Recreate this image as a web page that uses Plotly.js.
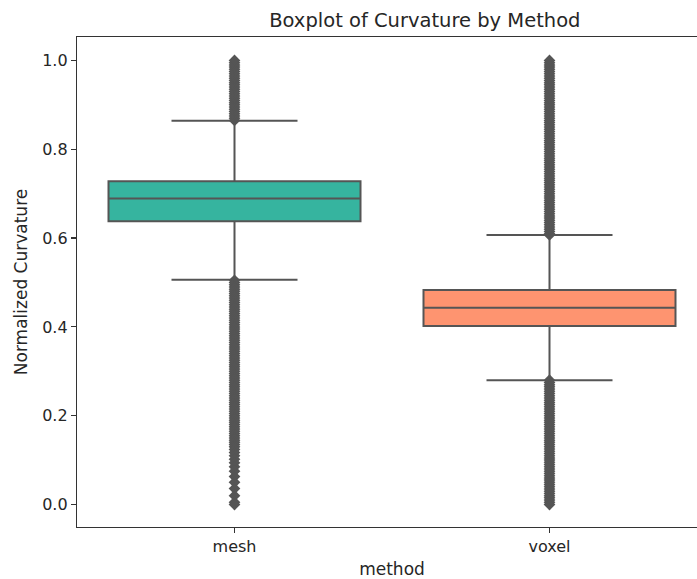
<!DOCTYPE html>
<html>
<head>
<meta charset="utf-8">
<script src="https://cdn.plot.ly/plotly-3.0.1.min.js"></script>
<style>
html,body{margin:0;padding:0;overflow:hidden;background:#fff;}
#chart{width:710px;height:579px;}
</style>
</head>
<body>
<div id="chart"></div>
<script>
const categories = ['mesh', 'voxel'];
const q1 = [0.638, 0.402];
const medians = [0.689, 0.443];
const q3 = [0.728, 0.483];
const lowerWhisker = [0.506, 0.280];
const upperWhisker = [0.864, 0.607];
const boxColors = ['#36b49f', '#fe9470'];

const meshOutliers = [
  0.865,0.87,0.875,0.88,0.885,0.89,0.895,0.9,0.905,0.91,0.915,0.92,0.925,0.93,0.935,0.94,0.945,0.95,0.955,0.96,0.965,0.97,0.975,0.98,0.985,0.99,0.995,1.0,
  0.505,0.5,0.495,0.49,0.485,0.48,0.475,0.47,0.465,0.46,0.455,0.45,0.445,0.44,0.435,0.43,0.425,0.42,0.415,0.41,0.405,0.4,0.395,0.39,0.385,0.38,0.375,0.37,0.365,0.36,0.355,0.35,0.345,0.34,0.335,0.33,0.325,0.32,0.315,0.31,0.305,0.3,0.295,0.29,0.285,0.28,0.275,0.27,0.265,0.26,0.255,0.25,0.245,0.24,0.235,0.23,0.225,0.22,0.215,0.21,0.205,0.2,0.195,0.19,0.185,0.18,0.175,0.17,0.165,0.16,0.155,0.15,0.145,0.14,0.135,0.13,0.124,0.117,0.11,0.102,0.094,0.085,0.075,0.063,0.05,0.036,0.02,0.005,0.0
];
const voxelOutliers = [
  0.607,0.61,0.615,0.62,0.625,0.63,0.635,0.64,0.645,0.65,0.655,0.66,0.665,0.67,0.675,0.68,0.685,0.69,0.695,0.7,0.705,0.71,0.715,0.72,0.725,0.73,0.735,0.74,0.745,0.75,0.755,0.76,0.765,0.77,0.775,0.78,0.785,0.79,0.795,0.8,0.805,0.81,0.815,0.82,0.825,0.83,0.835,0.84,0.845,0.85,0.855,0.86,0.865,0.87,0.875,0.88,0.885,0.89,0.895,0.9,0.905,0.91,0.915,0.92,0.925,0.93,0.935,0.94,0.945,0.95,0.955,0.96,0.965,0.97,0.975,0.98,0.985,0.99,0.995,1.0,
  0.28,0.275,0.27,0.265,0.26,0.255,0.25,0.245,0.24,0.235,0.23,0.225,0.22,0.215,0.21,0.205,0.2,0.195,0.19,0.185,0.18,0.175,0.17,0.165,0.16,0.155,0.15,0.145,0.14,0.135,0.13,0.125,0.12,0.115,0.11,0.105,0.1,0.095,0.09,0.085,0.08,0.075,0.07,0.065,0.06,0.055,0.05,0.045,0.04,0.035,0.03,0.025,0.02,0.015,0.01,0.005,0.0
];
const yTicks = [0.0, 0.2, 0.4, 0.6, 0.8, 1.0];
const yTickLabels = ['0.0', '0.2', '0.4', '0.6', '0.8', '1.0'];

const edge = '#555555';
const font = 'DejaVu Sans, sans-serif';

const traces = categories.map((c, i) => ({
  type: 'box',
  x: [c],
  q1: [q1[i]],
  median: [medians[i]],
  q3: [q3[i]],
  lowerfence: [lowerWhisker[i]],
  upperfence: [upperWhisker[i]],
  fillcolor: boxColors[i],
  line: {color: edge, width: 2},
  whiskerwidth: 0.5,
  width: 0.8,
  boxpoints: false,
  showlegend: false,
  hoverinfo: 'skip'
}));

const outlierSets = [meshOutliers, voxelOutliers];
outlierSets.forEach((vals, i) => {
  traces.push({
    type: 'scatter',
    mode: 'markers',
    x: vals.map(() => categories[i]),
    y: vals,
    marker: {symbol: 'diamond', size: 9, color: edge, line: {width: 0}},
    showlegend: false,
    hoverinfo: 'skip'
  });
});

const layout = {
  width: 710,
  height: 579,
  margin: {l: 77, r: 3, t: 36.5, b: 51.5},
  paper_bgcolor: '#ffffff',
  plot_bgcolor: '#ffffff',
  boxmode: 'overlay',
  font: {family: font, color: '#262626', size: 16},
  title: {
    text: 'Boxplot of Curvature by Method',
    font: {family: font, size: 19.5, color: '#262626'},
    x: 392 / 710, xref: 'paper', xanchor: 'center',
    y: 1 - 20 / 579, yanchor: 'middle'
  },
  xaxis: {
    type: 'category',
    categoryorder: 'array',
    categoryarray: categories,
    range: [-0.5, 1.5],
    showline: true, mirror: true, linecolor: '#333333', linewidth: 1.2,
    ticks: 'outside', ticklen: 5, tickwidth: 1.2, tickcolor: '#333333',
    showgrid: false, zeroline: false,
    tickfont: {family: font, size: 16, color: '#262626'},
    title: {text: 'method', font: {family: font, size: 17, color: '#262626'}, standoff: 9}
  },
  yaxis: {
    range: [-0.0506, 1.0528],
    tickvals: yTicks,
    ticktext: yTickLabels,
    showline: true, mirror: true, linecolor: '#333333', linewidth: 1.2,
    ticks: 'outside', ticklen: 5, tickwidth: 1.2, tickcolor: '#333333',
    showgrid: false, zeroline: false,
    tickfont: {family: font, size: 16, color: '#262626'},
    title: {text: 'Normalized Curvature', font: {family: font, size: 17, color: '#262626'}, standoff: 10}
  }
};

Plotly.newPlot('chart', traces, layout, {staticPlot: true, displayModeBar: false});
</script>
</body>
</html>
